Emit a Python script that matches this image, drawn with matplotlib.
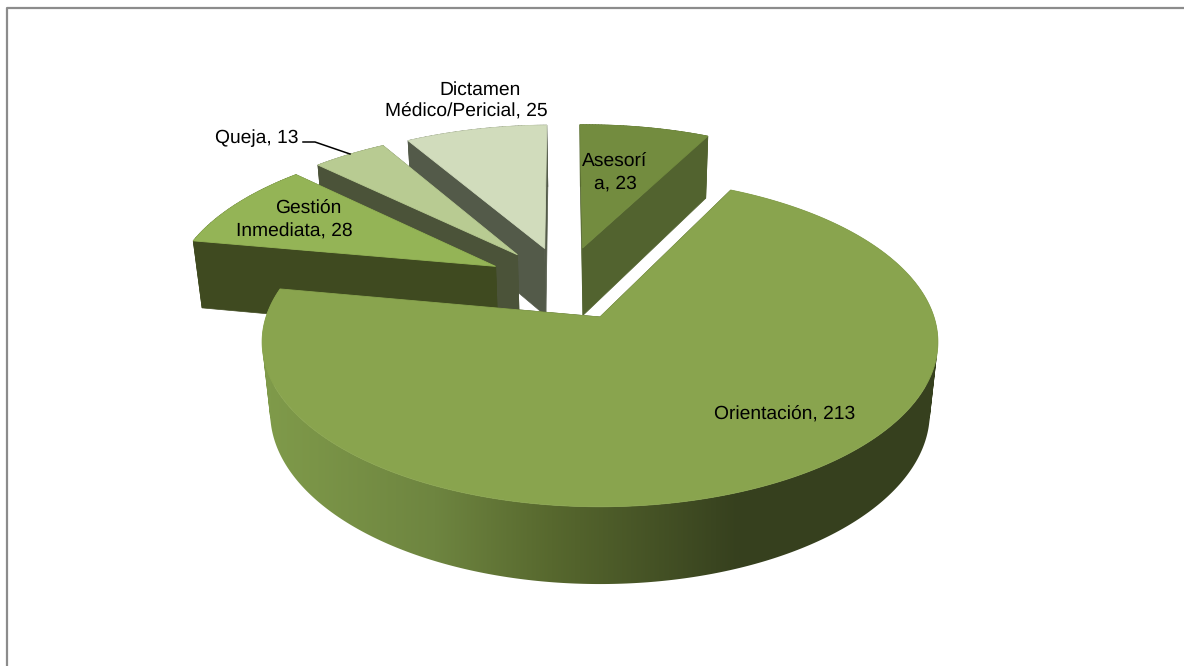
import numpy as np
import matplotlib
matplotlib.use("Agg")
from matplotlib import pyplot as plt
from matplotlib.colors import LinearSegmentedColormap
from matplotlib.patches import PathPatch, Polygon
from matplotlib.path import Path

plt.rcParams["font.family"] = ["Liberation Sans", "DejaVu Sans"]
plt.rcParams["text.hinting"] = "no_hinting"

# pie data, clockwise from 12 o'clock
categories = ["Asesoría", "Orientación", "Gestión Inmediata", "Queja", "Dictamen Médico/Pericial"]
values = [23, 213, 28, 13, 25]
# wrapped the way the reference wraps them, one entry per line
label_lines = ["Asesorí", "a, 23", "Orientación, 213", "Gestión", "Inmediata, 28", "Queja, 13", "Dictamen", "Médico/Pericial, 25"]

top_colors = ["#738c3f", "#89a44e", "#94b456", "#b8cb92", "#d1dcbc"]
wall_colors = ["#52632f", "#36401e", "#3f4a20", "#4b5339", "#535a49"]
# far slices first, Orientación last so it covers the others
draw_order = [0, 4, 3, 2, 1]

# perspective camera, fitted by eye to the reference
cx, cy = 600, 317
rx, ky, kz = 334, 161, 72
persp_y, persp_z = 0.1515, -0.024
explode = 0.245
rotation = np.radians(-1)


def project(x, y, z):
    w = 1 + persp_y * y + persp_z * z
    return np.column_stack([cx + rx * x / w, cy - (ky * y + kz * z) / w])


def strip_path(upper, lower):
    # the two rims cross at the sides, so join same-wound quads instead of one polygon
    verts, codes = [], []
    for j in range(len(upper) - 1):
        quad = np.array([upper[j], upper[j + 1], lower[j + 1], lower[j]])
        x, y = quad[:, 0], quad[:, 1]
        area = np.sum(x * np.roll(y, -1) - np.roll(x, -1) * y)
        if area < 0:
            quad = quad[::-1]
        verts.extend(list(quad) + [quad[0]])
        codes.extend([Path.MOVETO, Path.LINETO, Path.LINETO, Path.LINETO, Path.CLOSEPOLY])
    return Path(np.array(verts), codes)


fig = plt.figure(figsize=(11.84, 6.66), dpi=100)
ax = fig.add_axes([0, 0, 1, 1])
ax.axis("off")

# chart frame
ax.plot([6.5, 6.5, 1184], [666, 8, 8], color="#8c8c8c", lw=1.6, zorder=1)

angles = np.cumsum([0] + values) / sum(values) * 2 * np.pi + rotation
mids = (angles[:-1] + angles[1:]) / 2
ref = mids[1]  # the projection centre sits on the Orientación apex

rim_cmap = LinearSegmentedColormap.from_list(
    "rim", [(0, "#7f9a4a"), (0.35, "#6e8540"), (0.6, "#57682e"), (1, "#36401e")]
)

z = 10
for i in draw_order:
    a0, a1 = angles[i], angles[i + 1]
    off_x = explode * (np.sin(mids[i]) - np.sin(ref))
    off_y = explode * (np.cos(mids[i]) - np.cos(ref))
    t = np.linspace(a0, a1, max(int((a1 - a0) * 90), 8))
    rim_x = np.sin(t) + off_x
    rim_y = np.cos(t) + off_y

    top_rim = project(rim_x, rim_y, 0 * t)
    low_rim = project(rim_x, rim_y, 0 * t - 1)
    apex_top = project(np.array([off_x]), np.array([off_y]), np.array([0.0]))
    apex_low = project(np.array([off_x]), np.array([off_y]), np.array([-1.0]))

    # radial walls
    for k in (0, -1):
        wall = np.vstack([apex_top, top_rim[k], low_rim[k], apex_low])
        ax.add_patch(Polygon(wall, closed=True, fc=wall_colors[i], ec=wall_colors[i], lw=0.5, zorder=z))

    # outer wall, Orientación gets the left to right shading
    rim_path = strip_path(top_rim, low_rim)
    if i == 1:
        patch = PathPatch(rim_path, fc="none", ec="none", zorder=z + 1)
        ax.add_patch(patch)
        grad = np.linspace(0, 1, 256).reshape(1, -1)
        im = ax.imshow(grad, cmap=rim_cmap, extent=[270, 740, 666, 0], aspect="auto", zorder=z + 1)
        im.set_clip_path(patch)
        # flat colour past the ends of the ramp
        for x0, x1, c in [(0, 270, rim_cmap(0.0)), (740, 1184, rim_cmap(1.0))]:
            side = ax.imshow([[c]], extent=[x0, x1, 666, 0], aspect="auto", zorder=z + 1)
            side.set_clip_path(patch)
    else:
        ax.add_patch(PathPatch(rim_path, fc=wall_colors[i], ec=wall_colors[i], lw=0.5, zorder=z + 1))

    # top face
    face = np.vstack([apex_top, top_rim])
    ax.add_patch(Polygon(face, closed=True, fc=top_colors[i], ec=top_colors[i], lw=0.6, zorder=z + 2))
    z += 3

# labels, x centre and baseline of each line
label_pos = [(615, 167), (615, 189), (785, 420), (308, 214), (294, 237), (257, 143), (480, 95), (466, 117)]
for txt, (lx, ly) in zip(label_lines, label_pos):
    ax.text(lx, ly, txt, ha="center", va="baseline", fontsize=13.9, color="black", zorder=40)

# leader line for Queja
ax.plot([303, 315, 350], [142, 142, 154], color="black", lw=1.1, zorder=40)

ax.set_xlim(0, 1184)
ax.set_ylim(666, 0)
fig.savefig("out.png", dpi=100)
